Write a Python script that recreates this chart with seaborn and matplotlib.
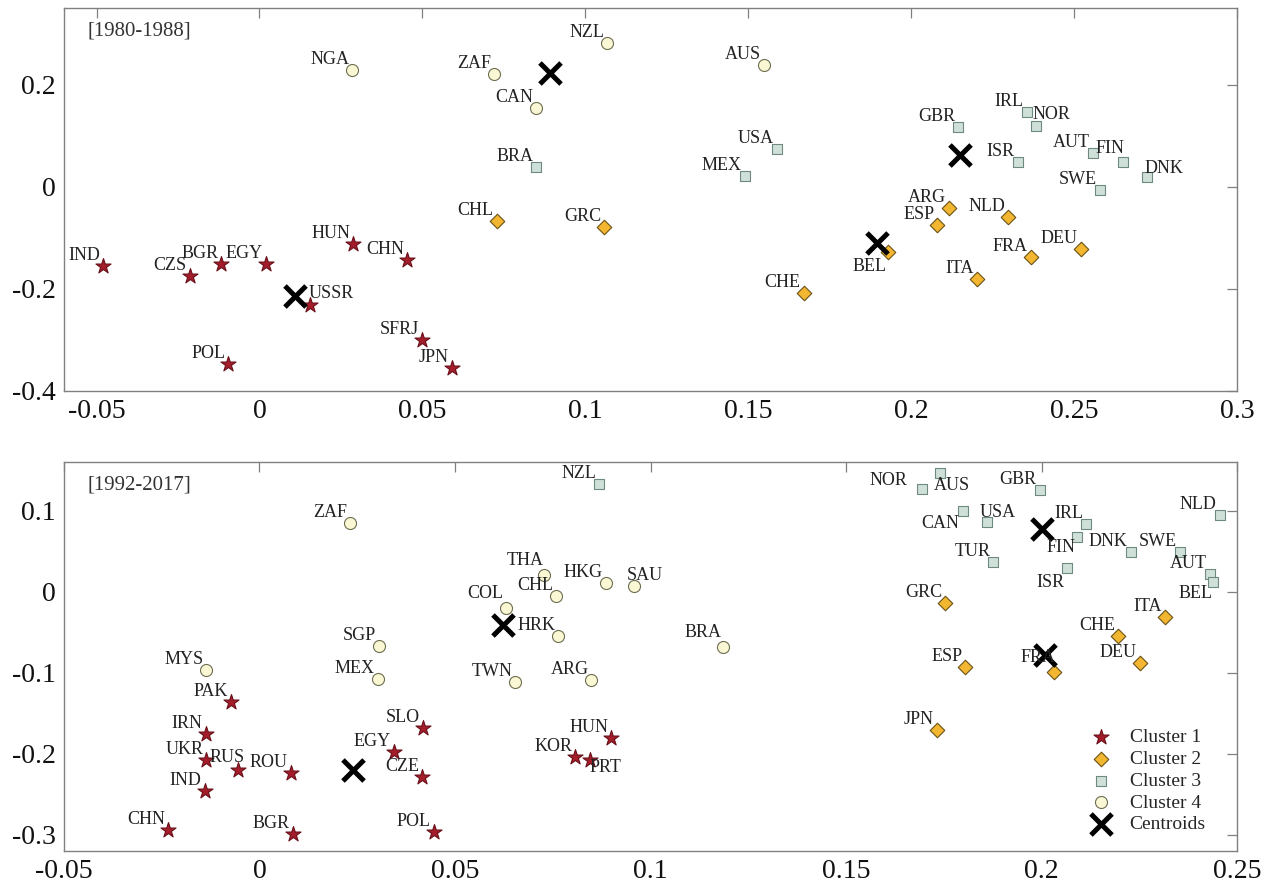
import pandas as pd
import seaborn as sns
import matplotlib.pyplot as plt
from matplotlib.ticker import FuncFormatter

# ---- panel A: 1980-1988 ----
names_a = ['IND', 'CZS', 'BGR', 'EGY', 'HUN', 'CHN', 'USSR', 'SFRJ', 'POL', 'JPN',
           'CHL', 'GRC', 'CHE', 'ARG', 'ESP', 'NLD', 'BEL', 'FRA', 'DEU', 'ITA',
           'BRA', 'USA', 'MEX', 'GBR', 'IRL', 'NOR', 'ISR', 'AUT', 'FIN', 'DNK', 'SWE',
           'NGA', 'ZAF', 'NZL', 'CAN', 'AUS']
x_a = [-0.048, -0.0214, -0.0117, 0.0020, 0.0288, 0.0454, 0.0156, 0.0498, -0.0096, 0.059,
       0.0728, 0.1058, 0.167, 0.2116, 0.208, 0.2297, 0.193, 0.2367, 0.252, 0.2202,
       0.085, 0.1587, 0.149, 0.2144, 0.2355, 0.2382, 0.2327, 0.2557, 0.2651, 0.2725, 0.2578,
       0.0285, 0.0719, 0.1068, 0.085, 0.1547]
y_a = [-0.156, -0.174, -0.152, -0.152, -0.113, -0.144, -0.232, -0.300, -0.347, -0.355,
       -0.068, -0.078, -0.209, -0.041, -0.075, -0.059, -0.127, -0.138, -0.123, -0.180,
       0.039, 0.073, 0.021, 0.117, 0.147, 0.119, 0.049, 0.066, 0.049, 0.018, -0.006,
       0.228, 0.220, 0.281, 0.154, 0.238]
cluster_a = [1] * 10 + [2] * 10 + [3] * 11 + [4] * 5
cent_x_a = [0.011, 0.1896, 0.215, 0.0893]
cent_y_a = [-0.214, -0.111, 0.062, 0.222]

# ---- panel B: 1992-2017 ----
names_b = ['PAK', 'IRN', 'UKR', 'RUS', 'ROU', 'IND', 'CHN', 'BGR', 'SLO', 'EGY', 'CZE', 'POL', 'HUN', 'KOR', 'PRT',
           'GRC', 'ITA', 'CHE', 'ESP', 'FRA', 'DEU', 'JPN',
           'NZL', 'NOR', 'AUS', 'GBR', 'CAN', 'USA', 'IRL', 'FIN', 'DNK', 'SWE', 'TUR', 'ISR', 'AUT', 'BEL', 'NLD',
           'ZAF', 'SGP', 'MEX', 'MYS', 'THA', 'HKG', 'SAU', 'CHL', 'COL', 'HRK', 'BRA', 'TWN', 'ARG']
x_b = [-0.0072, -0.0138, -0.0136, -0.0056, 0.008, -0.014, -0.0233, 0.0085, 0.0418, 0.0344, 0.0415, 0.0446, 0.090, 0.0808, 0.0844,
       0.1754, 0.2315, 0.2195, 0.1805, 0.2033, 0.2251, 0.1733,
       0.0869, 0.1695, 0.174, 0.1995, 0.1798, 0.186, 0.2115, 0.2092, 0.2228, 0.2354, 0.1877, 0.2064, 0.2431, 0.2438, 0.2456,
       0.0231, 0.0305, 0.0303, -0.0136, 0.0728, 0.0885, 0.0959, 0.0759, 0.0631, 0.0764, 0.1185, 0.0654, 0.0849]
y_b = [-0.1365, -0.176, -0.208, -0.220, -0.224, -0.246, -0.294, -0.299, -0.168, -0.198, -0.229, -0.296, -0.181, -0.204, -0.208,
       -0.0135, -0.031, -0.055, -0.0935, -0.0996, -0.0886, -0.171,
       0.133, 0.127, 0.146, 0.126, 0.0996, 0.086, 0.084, 0.067, 0.049, 0.049, 0.036, 0.0295, 0.022, 0.0123, 0.0947,
       0.085, -0.0676, -0.108, -0.097, 0.021, 0.011, 0.0074, -0.006, -0.020, -0.055, -0.068, -0.111, -0.1095]
cluster_b = [1] * 15 + [2] * 7 + [3] * 15 + [4] * 13
cent_x_b = [0.0238, 0.201, 0.200, 0.0623]
cent_y_b = [-0.220, -0.0787, 0.0775, -0.0406]

# label placement tweaks (pixel offsets, alignment) where default upper-left doesn't fit
offsets_a = {'USSR': (-2, 7, 'left'), 'NOR': (-3, 7, 'left'), 'DNK': (-3, 4, 'left'),
             'BEL': (-2, -19, 'right'), 'FIN': (1, 9, 'right')}
offsets_b = {'RUS': (-28, 8, 'left'), 'PRT': (0, -12, 'left'), 'FIN': (-2, -15, 'right'),
             'ISR': (-2, -19, 'right'), 'BEL': (0, -16, 'right'), 'NOR': (-15, 4, 'right'),
             'AUS': (-6, -17, 'left'), 'CAN': (-3, -17, 'right'), 'USA': (-7, 5, 'left'),
             'SAU': (-8, 6, 'left'), 'COL': (-3, 10, 'right'), 'THA': (0, 10, 'right'),
             'BRA': (-1, 10, 'right'), 'FRA': (1, 10, 'right')}

# marker, face, edge, size per cluster
styles = {1: ('*', '#a31d2b', '#6a1019', 130),
          2: ('D', '#f2b630', '#6b5316', 55),
          3: ('s', '#cfe0d8', '#6e8a80', 60),
          4: ('o', '#faf7d5', '#6e6e50', 75)}

sns.set_theme(style='white')
plt.rcParams['font.family'] = ['Liberation Serif', 'DejaVu Serif']
plt.rcParams['axes.unicode_minus'] = False

fig = plt.figure(figsize=(12.72, 8.92), dpi=100)
ax_a = fig.add_axes([0.0503, 0.5617, 0.9222, 0.4294])
ax_b = fig.add_axes([0.0503, 0.0460, 0.9222, 0.4361])


def draw_panel(ax, names, xs, ys, clusters, cx, cy, offsets, tag):
    df = pd.DataFrame({'name': names, 'x': xs, 'y': ys, 'cluster': clusters})
    for k, (mk, fc, ec, sz) in styles.items():
        sel = df[df['cluster'] == k]
        sns.scatterplot(data=sel, x='x', y='y', marker=mk, color=fc, edgecolor=ec,
                        s=sz, linewidth=0.8, ax=ax, label=f'Cluster {k}', zorder=3)
    sns.scatterplot(x=cx, y=cy, marker='x', color='black', s=230, linewidth=3.6,
                    ax=ax, label='Centroids', zorder=4)
    for _, r in df.iterrows():
        dx, dy, ha = offsets.get(r['name'], (-3, 6, 'right'))
        ax.annotate(r['name'], (r['x'], r['y']), xytext=(dx, dy), textcoords='offset pixels',
                    ha=ha, va='baseline', fontsize=13, color='#222222', zorder=5)
    ax.text(0.02, 0.965, tag, transform=ax.transAxes, ha='left', va='top',
            fontsize=15, color='#333333')
    ax.set_xlabel('')
    ax.set_ylabel('')
    fmt = FuncFormatter(lambda v, _: f'{round(v, 4):g}')
    ax.xaxis.set_major_formatter(fmt)
    ax.yaxis.set_major_formatter(fmt)
    ax.tick_params(direction='in', length=7, width=0.9, color='#808080', labelsize=20,
                   labelcolor='#111111', top=True, right=True, pad=6)
    for sp in ax.spines.values():
        sp.set_color('#808080')
        sp.set_linewidth(1.0)
    if ax.get_legend() is not None:
        ax.get_legend().remove()


draw_panel(ax_a, names_a, x_a, y_a, cluster_a, cent_x_a, cent_y_a, offsets_a, '[1980-1988]')
ax_a.set_xlim(-0.06, 0.3)
ax_a.set_ylim(-0.4, 0.35)
ax_a.set_xticks([-0.05, 0, 0.05, 0.1, 0.15, 0.2, 0.25, 0.3])
ax_a.set_yticks([-0.4, -0.2, 0, 0.2])

draw_panel(ax_b, names_b, x_b, y_b, cluster_b, cent_x_b, cent_y_b, offsets_b, '[1992-2017]')
ax_b.set_xlim(-0.05, 0.25)
ax_b.set_ylim(-0.32, 0.16)
ax_b.set_xticks([-0.05, 0, 0.05, 0.1, 0.15, 0.2, 0.25])
ax_b.set_yticks([-0.3, -0.2, -0.1, 0, 0.1])
ax_b.legend(loc='lower right', bbox_to_anchor=(0.98, 0.025), frameon=False, fontsize=14,
            scatterpoints=1, labelspacing=0.22, handletextpad=0.45, borderaxespad=0)

fig.savefig('out.png', dpi=100)
